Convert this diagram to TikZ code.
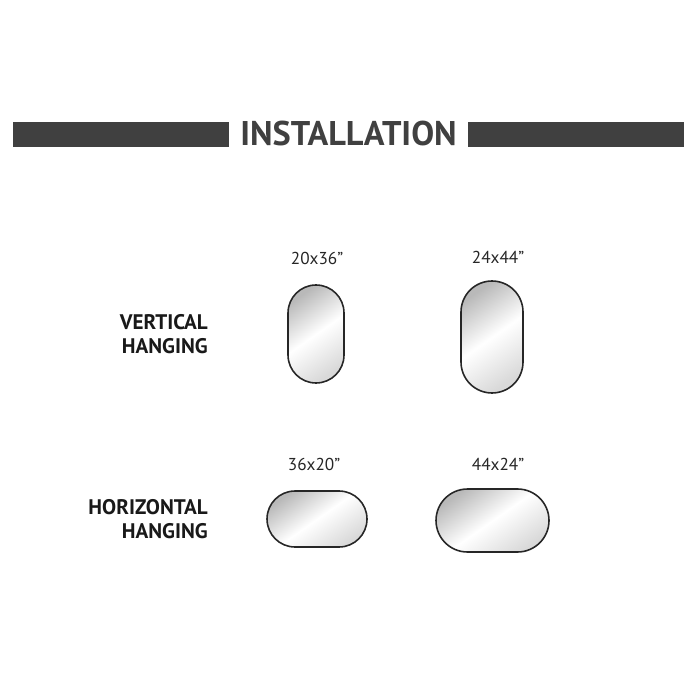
\documentclass[tikz,border=0pt]{standalone}
\usepackage{fontspec}
\setmainfont{PT Sans}
\usepackage{tikz}
\definecolor{bardark}{HTML}{404040}
\tikzstyle{bar}=[fill=bardark,draw=none,minimum height=25*0.2mm,inner sep=0pt]
\tikzstyle{mirror}=[draw=black!85,line width=0.9pt,inner sep=0pt,
  left color=gray!55,right color=gray!30,middle color=white,shading angle=35]
\tikzstyle{size}=[font=\fontsize{9.8}{11}\selectfont,text=black!85]
\tikzstyle{side}=[font=\bfseries\fontsize{12}{13.7}\selectfont,align=right,anchor=east,text=black!90]

\begin{document}
\begin{tikzpicture}[x=0.2mm,y=-0.2mm]
\useasboundingbox (0,0) rectangle (700,700);

% title bar
\node[bar,minimum width=216*0.2mm] (barl) at (121,134.5) {};
\node[bar,minimum width=216*0.2mm] (barr) at (576,134.5) {};
\node[text=bardark,font=\bfseries\fontsize{19.5}{22}\selectfont] (title) at (348.5,134) {INSTALLATION};

% row labels
\node[side] (vert) at (214,334) {VERTICAL\\HANGING};
\node[side] (horiz) at (214,519) {HORIZONTAL\\HANGING};

% vertical mirrors
\node[mirror,minimum width=56*0.2mm,minimum height=98*0.2mm,rounded corners=28*0.2mm] (va) at (316,334) {};
\node[mirror,minimum width=62*0.2mm,minimum height=112*0.2mm,rounded corners=31*0.2mm] (vb) at (492,337) {};
\node[size] (la) at (317,258) {20x36”};
\node[size] (lb) at (498,257) {24x44”};

% horizontal mirrors
\node[mirror,minimum width=100*0.2mm,minimum height=56*0.2mm,rounded corners=28*0.2mm] (ha) at (317,519) {};
\node[mirror,minimum width=113*0.2mm,minimum height=63*0.2mm,rounded corners=31.5*0.2mm] (hb) at (492.5,520.5) {};
\node[size] (lc) at (314,464) {36x20”};
\node[size] (ld) at (498,464) {44x24”};

\end{tikzpicture}
\end{document}
